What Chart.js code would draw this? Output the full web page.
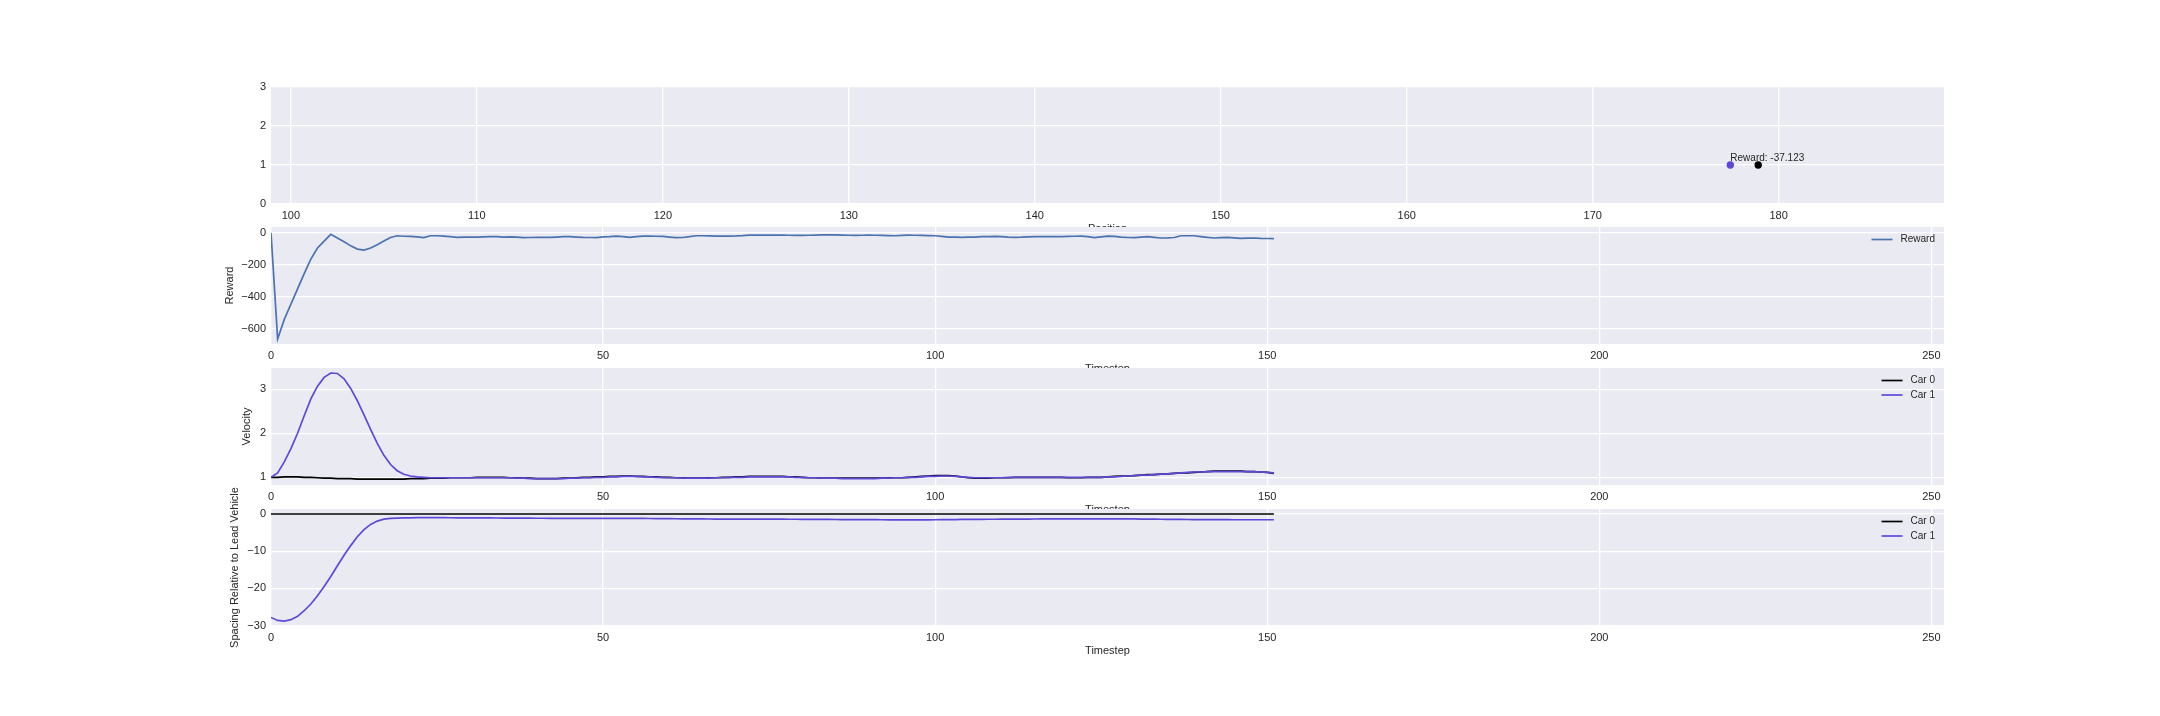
<!DOCTYPE html>
<html>
<head>
<meta charset="utf-8">
<title>Platoon rollout</title>
<script src="https://cdn.jsdelivr.net/npm/chart.js@4.4.1/dist/chart.umd.min.js"></script>
<style>
    html, body { margin: 0; padding: 0; background: #ffffff; }
    #figura { position: relative; width: 2160px; height: 716px; overflow: hidden; }
    #figura canvas { position: absolute; left: 0; }
</style>
</head>
<body>
<div id="figura">
    <canvas id="painelPosicao"></canvas>
    <canvas id="painelReward"></canvas>
    <canvas id="painelVelocidade"></canvas>
    <canvas id="painelEspacamento"></canvas>
</div>
<script>
// ---- data ----

// top panel: car positions on the road (lane 1)
const carNames = ['Car 0', 'Car 1'];
const carPositions = [178.9, 177.4];
const carLanes = [1, 1];
const carColors = ['#000000', '#5f48d8'];
const annotationText = 'Reward: -37.123';
const annotationX = 177.4;
const annotationY = 1.1;

// tick labels
const positionTicks = [100, 110, 120, 130, 140, 150, 160, 170, 180];
const laneTicks = [0, 1, 2, 3];
const timestepTicks = [0, 50, 100, 150, 200, 250];
const rewardTicks = [0, -200, -400, -600];
const velocityTicks = [1, 2, 3];
const spacingTicks = [0, -10, -20, -30];

// reward per timestep (t = 0..151)
const reward = [
    0, -662, -540, -445, -350, -255, -165, -95, -52, -10,
    -33, -57, -82, -102, -108, -95, -75, -52, -30, -19,
    -22, -23, -26, -31, -19, -19, -21, -24, -29, -28,
    -27, -27, -26, -25, -25, -28, -26, -27, -31, -30,
    -29, -29, -29, -27, -25, -25, -27, -29, -30, -31,
    -26, -24, -21, -25, -29, -25, -21, -21, -22, -23,
    -27, -31, -30, -25, -19, -19, -20, -21, -21, -21,
    -20, -18, -15, -15, -15, -15, -15, -15, -16, -17,
    -17, -16, -15, -14, -13, -14, -15, -16, -17, -16,
    -15, -16, -17, -18, -19, -17, -15, -16, -17, -18,
    -19, -23, -27, -28, -29, -28, -27, -25, -24, -23,
    -25, -28, -29, -28, -26, -25, -25, -25, -25, -24,
    -23, -22, -21, -25, -31, -26, -21, -23, -27, -30,
    -31, -27, -25, -29, -33, -32, -30, -19, -19, -19,
    -24, -29, -33, -31, -29, -32, -35, -34, -33, -35,
    -36, -37.123
];

// velocity per timestep
const velocityCar0 = [
    1.00, 1.00, 1.01, 1.01, 1.01, 1.00, 1.00, 0.99, 0.98, 0.98,
    0.97, 0.97, 0.97, 0.96, 0.96, 0.96, 0.96, 0.96, 0.96, 0.96,
    0.96, 0.97, 0.97, 0.97, 0.98, 0.98, 0.98, 0.99, 0.99, 0.99,
    0.99, 1.00, 1.00, 1.00, 1.00, 1.00, 0.99, 0.99, 0.98, 0.98,
    0.97, 0.97, 0.97, 0.97, 0.98, 0.98, 0.99, 1.00, 1.00, 1.01,
    1.01, 1.02, 1.02, 1.03, 1.03, 1.02, 1.02, 1.01, 1.01, 1.00,
    1.00, 0.99, 0.99, 0.98, 0.98, 0.98, 0.99, 0.99, 1.00, 1.00,
    1.01, 1.01, 1.02, 1.02, 1.02, 1.02, 1.02, 1.02, 1.01, 1.01,
    1.00, 0.99, 0.99, 0.98, 0.98, 0.98, 0.98, 0.98, 0.98, 0.98,
    0.98, 0.98, 0.98, 0.99, 0.99, 0.99, 1.00, 1.01, 1.02, 1.03,
    1.04, 1.04, 1.04, 1.03, 1.01, 0.99, 0.98, 0.98, 0.98, 0.99,
    0.99, 0.99, 1.00, 1.00, 1.00, 1.00, 1.00, 1.00, 1.00, 1.00,
    0.99, 0.99, 0.99, 1.00, 1.00, 1.00, 1.01, 1.02, 1.03, 1.03,
    1.04, 1.05, 1.06, 1.06, 1.07, 1.08, 1.09, 1.10, 1.10, 1.11,
    1.12, 1.13, 1.14, 1.14, 1.14, 1.14, 1.14, 1.13, 1.13, 1.12,
    1.11, 1.09
];
const velocityCar1 = [
    1.00, 1.10, 1.35, 1.65, 2.00, 2.40, 2.78, 3.07, 3.27, 3.37,
    3.36, 3.24, 3.02, 2.74, 2.42, 2.09, 1.77, 1.50, 1.29, 1.15,
    1.07, 1.03, 1.01, 1.00, 0.99, 0.99, 0.99, 0.99, 0.99, 0.99,
    0.99, 0.99, 0.99, 0.99, 0.99, 0.99, 0.99, 0.98, 0.98, 0.97,
    0.97, 0.97, 0.97, 0.97, 0.97, 0.98, 0.98, 0.99, 0.99, 1.00,
    1.00, 1.01, 1.01, 1.02, 1.02, 1.02, 1.01, 1.01, 1.00, 1.00,
    0.99, 0.99, 0.98, 0.98, 0.98, 0.98, 0.98, 0.99, 0.99, 1.00,
    1.00, 1.00, 1.01, 1.01, 1.01, 1.01, 1.01, 1.01, 1.01, 1.00,
    1.00, 0.99, 0.99, 0.98, 0.98, 0.98, 0.97, 0.97, 0.97, 0.97,
    0.97, 0.97, 0.98, 0.98, 0.99, 0.99, 1.00, 1.00, 1.01, 1.02,
    1.02, 1.03, 1.03, 1.02, 1.01, 1.00, 0.99, 0.99, 0.99, 0.99,
    0.99, 1.00, 1.00, 1.00, 1.00, 1.00, 1.00, 1.00, 1.00, 1.00,
    1.00, 1.00, 1.00, 1.00, 1.00, 1.00, 1.01, 1.01, 1.02, 1.03,
    1.04, 1.05, 1.05, 1.06, 1.07, 1.08, 1.09, 1.10, 1.11, 1.12,
    1.12, 1.13, 1.13, 1.13, 1.13, 1.13, 1.13, 1.13, 1.13, 1.12,
    1.11, 1.10
];

// spacing relative to the lead vehicle
const spacingCar0 = [
    0, 0, 0, 0, 0, 0, 0, 0, 0, 0, 0, 0, 0, 0, 0, 0, 0, 0, 0, 0,
    0, 0, 0, 0, 0, 0, 0, 0, 0, 0, 0, 0, 0, 0, 0, 0, 0, 0, 0, 0,
    0, 0, 0, 0, 0, 0, 0, 0, 0, 0, 0, 0, 0, 0, 0, 0, 0, 0, 0, 0,
    0, 0, 0, 0, 0, 0, 0, 0, 0, 0, 0, 0, 0, 0, 0, 0, 0, 0, 0, 0,
    0, 0, 0, 0, 0, 0, 0, 0, 0, 0, 0, 0, 0, 0, 0, 0, 0, 0, 0, 0,
    0, 0, 0, 0, 0, 0, 0, 0, 0, 0, 0, 0, 0, 0, 0, 0, 0, 0, 0, 0,
    0, 0, 0, 0, 0, 0, 0, 0, 0, 0, 0, 0, 0, 0, 0, 0, 0, 0, 0, 0,
    0, 0, 0, 0, 0, 0, 0, 0, 0, 0, 0, 0
];
const spacingCar1 = [
    -27.8, -28.6, -28.8, -28.4, -27.5, -26.0, -24.2, -22.0, -19.5, -16.8,
    -13.9, -11.1, -8.5, -6.1, -4.2, -2.8, -1.9, -1.4, -1.2, -1.1,
    -1.05, -1.02, -1.0, -1.0, -1.0, -1.0, -1.0, -1.01, -1.02, -1.03,
    -1.04, -1.05, -1.06, -1.07, -1.08, -1.09, -1.1, -1.11, -1.12, -1.13,
    -1.14, -1.15, -1.16, -1.17, -1.18, -1.19, -1.2, -1.2, -1.2, -1.2,
    -1.19, -1.18, -1.17, -1.17, -1.18, -1.19, -1.2, -1.21, -1.22, -1.24,
    -1.26, -1.28, -1.3, -1.32, -1.33, -1.34, -1.35, -1.36, -1.36, -1.36,
    -1.36, -1.36, -1.36, -1.36, -1.37, -1.38, -1.39, -1.4, -1.41, -1.42,
    -1.43, -1.44, -1.45, -1.46, -1.47, -1.48, -1.49, -1.5, -1.51, -1.52,
    -1.53, -1.54, -1.55, -1.56, -1.57, -1.58, -1.58, -1.58, -1.57, -1.56,
    -1.55, -1.53, -1.51, -1.49, -1.47, -1.45, -1.44, -1.43, -1.42, -1.41,
    -1.4, -1.39, -1.38, -1.37, -1.36, -1.35, -1.34, -1.33, -1.32, -1.31,
    -1.3, -1.3, -1.3, -1.3, -1.3, -1.3, -1.3, -1.31, -1.32, -1.33,
    -1.34, -1.36, -1.38, -1.4, -1.42, -1.44, -1.46, -1.47, -1.48, -1.49,
    -1.5, -1.51, -1.52, -1.53, -1.54, -1.55, -1.55, -1.55, -1.55, -1.55,
    -1.55, -1.55
];

// ---- layout / style ----
const FIG_W = 2160;
const PLOT_LEFT = 271;
const PLOT_RIGHT = 1944;
const PAD_TOP = 30;
const AXIS_W = 70;
const AXIS_H = 40;
const PANEL_H = 117;
const FONT = '"Liberation Sans", Arial, sans-serif';
const TEXT_COLOR = '#262626';
const REWARD_COLOR = '#4c72b0';

// seaborn-like grey plot background
const fundoPlugin = {
    id: 'fundo',
    beforeDraw(chart) {
        const a = chart.chartArea;
        const ctx = chart.ctx;
        ctx.save();
        ctx.fillStyle = '#eaeaf2';
        ctx.fillRect(a.left, a.top, a.right - a.left, a.bottom - a.top);
        ctx.restore();
    }
};

// matplotlib style legend, top right inside the axes
const legendaPlugin = {
    id: 'legenda',
    afterDatasetsDraw(chart, args, opts) {
        if (!opts.show) return;
        const ctx = chart.ctx;
        const a = chart.chartArea;
        const items = chart.data.datasets.filter(d => d.label);
        ctx.save();
        ctx.font = '10px ' + FONT;
        const maxW = Math.max(...items.map(d => ctx.measureText(d.label).width));
        const textX = a.right - 9 - maxW;
        items.forEach((d, i) => {
            const y = a.top + 12.5 + i * 14.5;
            ctx.strokeStyle = d.borderColor;
            ctx.lineWidth = d.borderWidth;
            ctx.beginPath();
            ctx.moveTo(textX - 29, y);
            ctx.lineTo(textX - 8, y);
            ctx.stroke();
            ctx.fillStyle = TEXT_COLOR;
            ctx.textAlign = 'left';
            ctx.textBaseline = 'middle';
            ctx.fillText(d.label, textX, y);
        });
        ctx.restore();
    }
};

// text label next to the cars in the top panel
const anotacaoPlugin = {
    id: 'anotacao',
    afterDatasetsDraw(chart, args, opts) {
        if (!opts.text) return;
        const ctx = chart.ctx;
        ctx.save();
        ctx.font = '10px ' + FONT;
        ctx.fillStyle = TEXT_COLOR;
        ctx.textAlign = 'left';
        ctx.textBaseline = 'alphabetic';
        ctx.fillText(opts.text, chart.scales.x.getPixelForValue(opts.x), chart.scales.y.getPixelForValue(opts.y));
        ctx.restore();
    }
};

function formatTick(v) {
    return v < 0 ? '\u2212' + Math.abs(v) : String(v);
}

function eixoX(min, max, ticks, title) {
    return {
        type: 'linear',
        min: min,
        max: max,
        afterFit: s => { s.height = AXIS_H; },
        afterBuildTicks: s => { s.ticks = ticks.map(v => ({ value: v })); },
        grid: { color: '#ffffff', lineWidth: 1.3, drawTicks: false },
        border: { display: false },
        ticks: {
            color: TEXT_COLOR, font: { family: FONT, size: 11 }, padding: 5,
            maxRotation: 0, autoSkip: false, callback: v => formatTick(v)
        },
        title: {
            display: true, text: title, color: TEXT_COLOR,
            font: { family: FONT, size: 11, lineHeight: 1.2 },
            padding: { top: 0, bottom: 8.4 }
        }
    };
}

function eixoY(min, max, ticks, title, titlePad) {
    return {
        type: 'linear',
        min: min,
        max: max,
        afterFit: s => { s.width = AXIS_W; },
        afterBuildTicks: s => { s.ticks = ticks.map(v => ({ value: v })); },
        grid: { color: '#ffffff', lineWidth: 1.3, drawTicks: false },
        border: { display: false },
        ticks: {
            color: TEXT_COLOR, font: { family: FONT, size: 11 }, padding: 5,
            autoSkip: false, callback: v => formatTick(v)
        },
        title: {
            display: !!title, text: title || '', color: TEXT_COLOR,
            font: { family: FONT, size: 11, lineHeight: 1.2 },
            padding: { top: titlePad || 0, bottom: 0 }
        }
    };
}

function serie(values) {
    return values.map((v, i) => ({ x: i, y: v }));
}

function linha(label, values, color) {
    return {
        label: label,
        data: serie(values),
        borderColor: color,
        borderWidth: 1.7,
        pointRadius: 0,
        tension: 0,
        fill: false
    };
}

function criarPainel(id, top, type, datasets, scales, plugins) {
    const canvas = document.getElementById(id);
    canvas.width = FIG_W;
    canvas.height = PAD_TOP + PANEL_H + AXIS_H;
    canvas.style.top = (top - PAD_TOP) + 'px';
    return new Chart(canvas.getContext('2d'), {
        type: type,
        data: { datasets: datasets },
        options: {
            responsive: false,
            animation: false,
            devicePixelRatio: 1,
            events: [],
            layout: { padding: { left: PLOT_LEFT - AXIS_W, right: FIG_W - PLOT_RIGHT, top: PAD_TOP, bottom: 0 } },
            scales: scales,
            plugins: Object.assign({ legend: { display: false }, tooltip: { enabled: false } }, plugins)
        },
        plugins: [fundoPlugin, legendaPlugin, anotacaoPlugin]
    });
}

// panel 1: positions
criarPainel('painelPosicao', 87, 'scatter', [{
    data: carPositions.map((p, i) => ({ x: p, y: carLanes[i] })),
    pointBackgroundColor: carColors,
    pointBorderWidth: 0,
    pointRadius: 3.7
}], {
    x: eixoX(98.93, 188.89, positionTicks, 'Position'),
    y: eixoY(0, 3, laneTicks)
}, { anotacao: { text: annotationText, x: annotationX, y: annotationY } });

// panel 2: reward
criarPainel('painelReward', 227, 'line', [
    linha('Reward', reward, REWARD_COLOR)
], {
    x: eixoX(0, 251.9, timestepTicks, 'Timestep'),
    y: eixoY(-693.5, 35.5, rewardTicks, 'Reward', 22.4)
}, { legenda: { show: true } });

// panel 3: velocity (Car 1 drawn on top)
const velDatasets = [linha(carNames[0], velocityCar0, carColors[0]), linha(carNames[1], velocityCar1, carColors[1])];
velDatasets[0].order = 2;
velDatasets[1].order = 1;
criarPainel('painelVelocidade', 368, 'line', velDatasets, {
    x: eixoX(0, 251.9, timestepTicks, 'Timestep'),
    y: eixoY(0.825, 3.484, velocityTicks, 'Velocity', 39)
}, { legenda: { show: true } });

// panel 4: spacing
const espDatasets = [linha(carNames[0], spacingCar0, carColors[0]), linha(carNames[1], spacingCar1, carColors[1])];
espDatasets[0].order = 2;
espDatasets[1].order = 1;
criarPainel('painelEspacamento', 509, 'line', espDatasets, {
    x: eixoX(0, 251.9, timestepTicks, 'Timestep'),
    y: eixoY(-30.1, 1.34, spacingTicks, 'Spacing Relative to Lead Vehicle', 27.4)
}, { legenda: { show: true } });
</script>
</body>
</html>
